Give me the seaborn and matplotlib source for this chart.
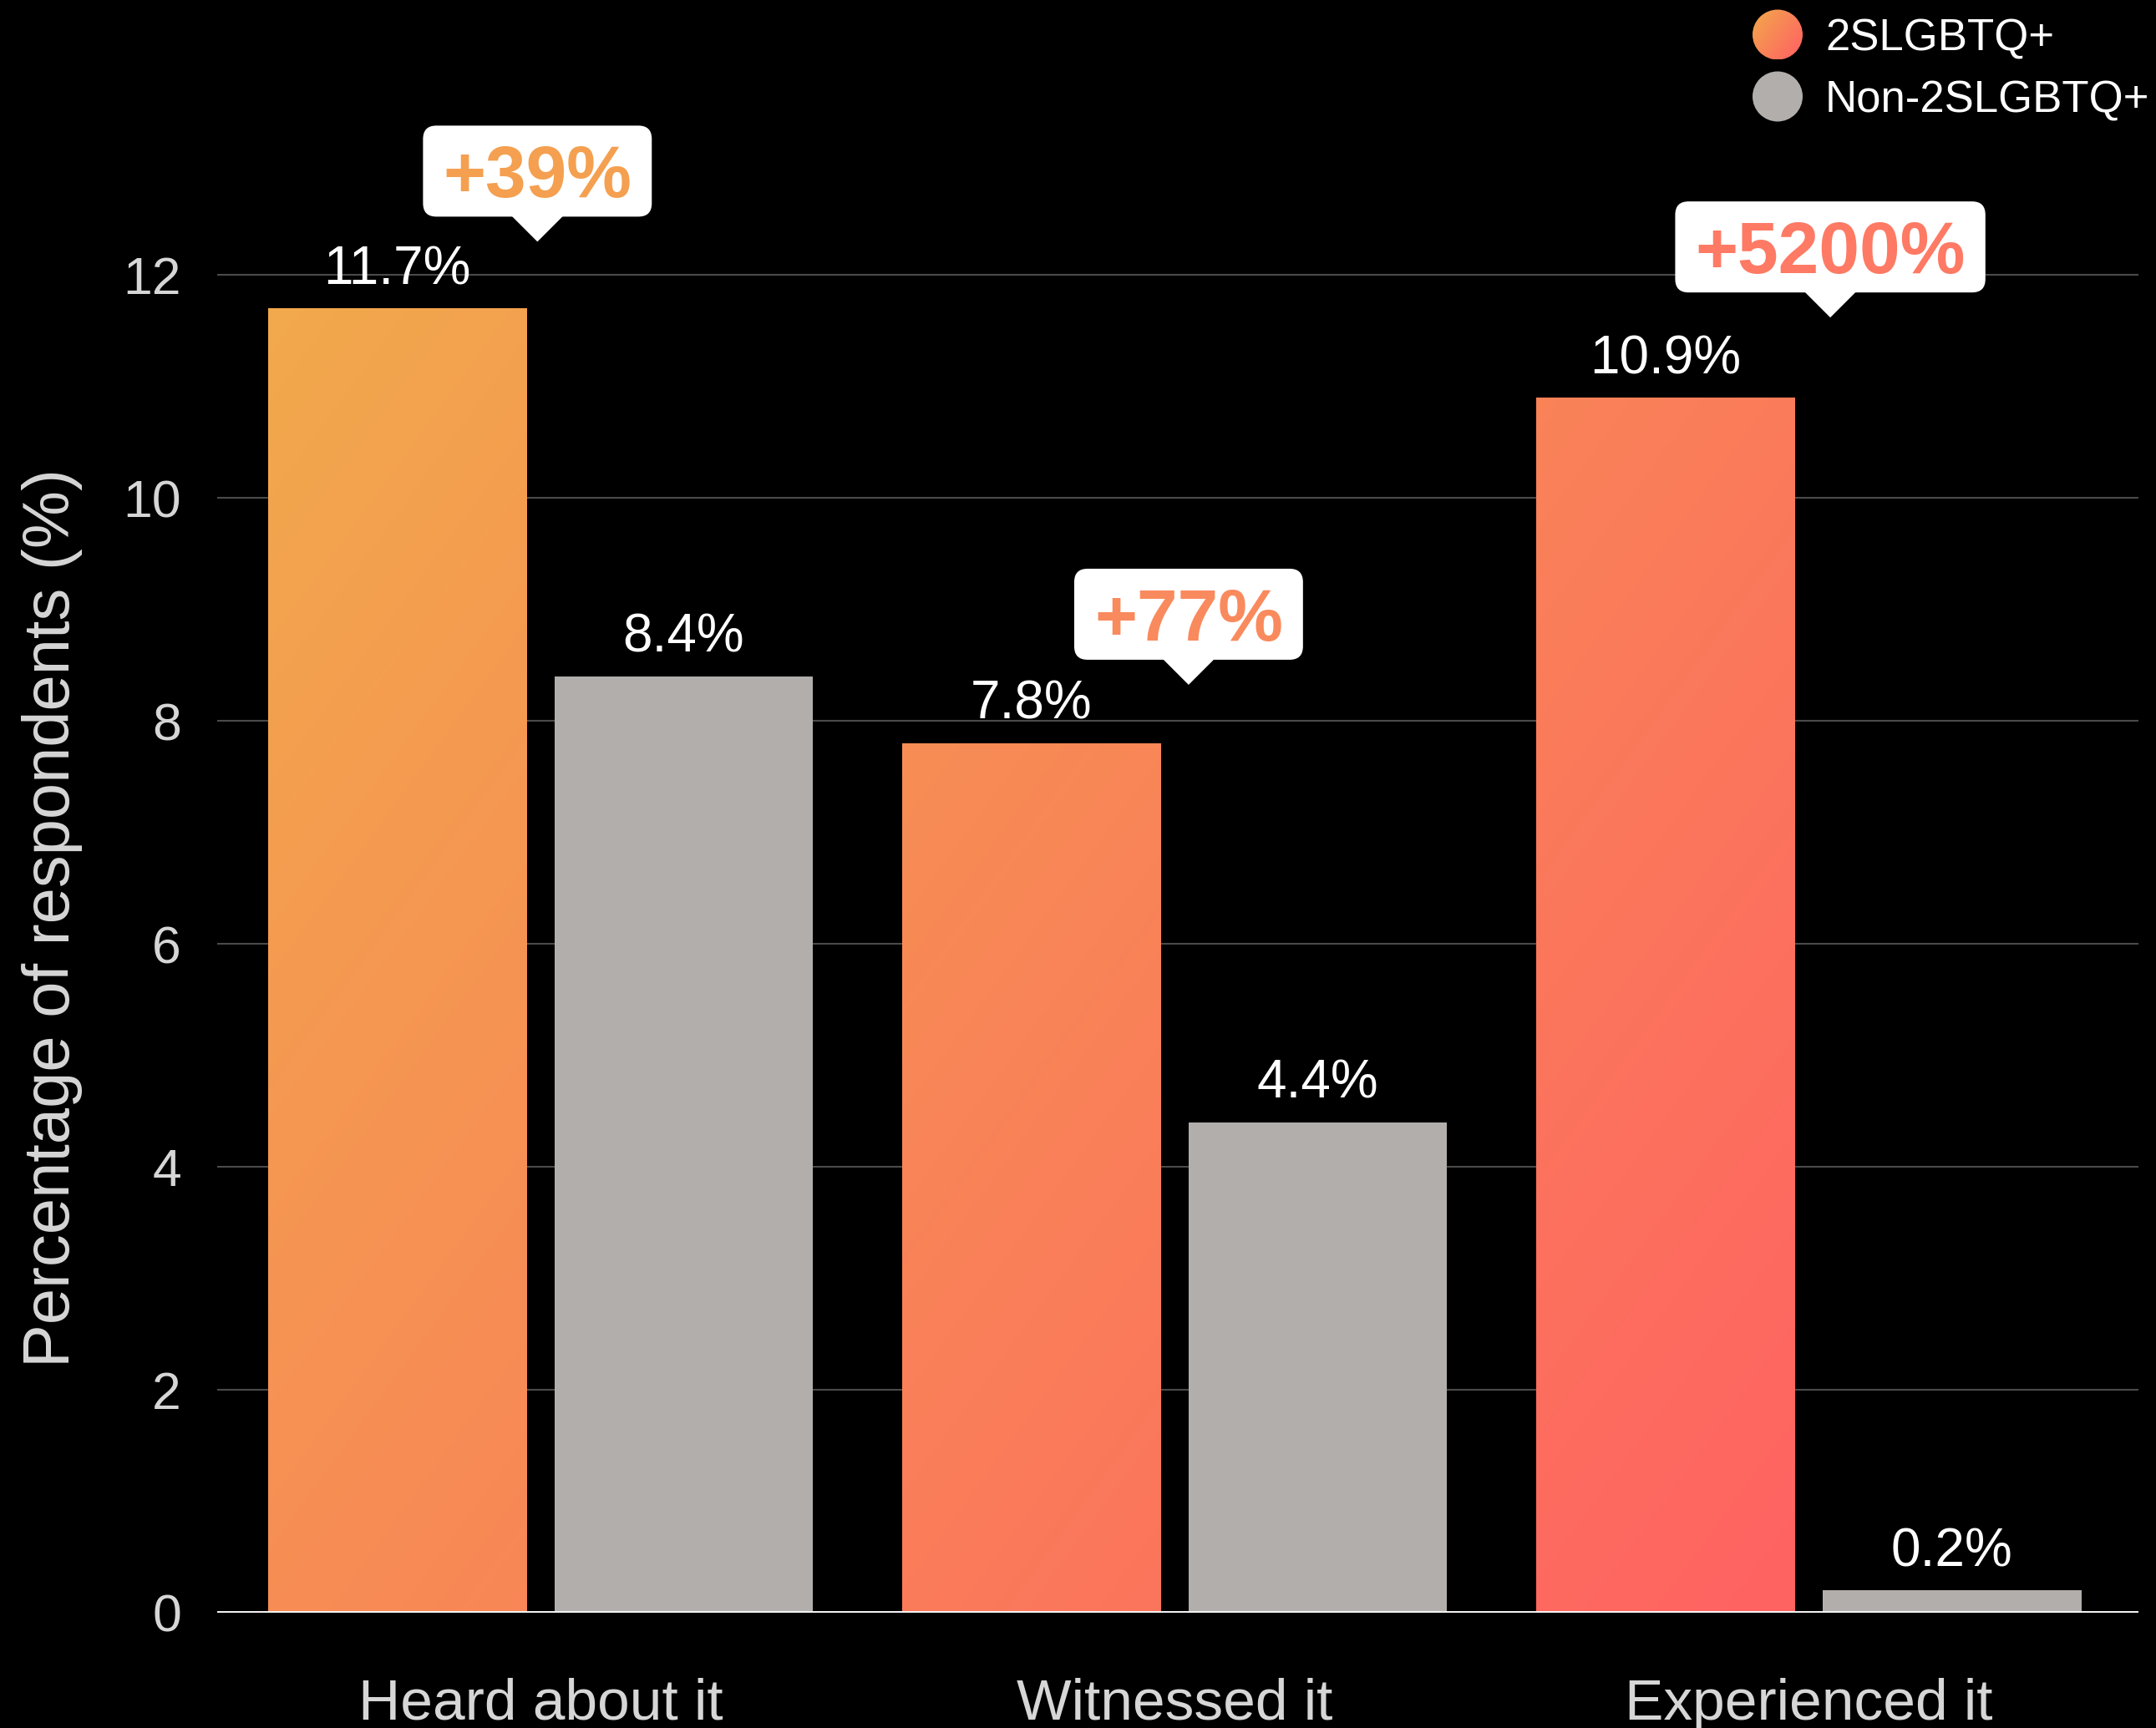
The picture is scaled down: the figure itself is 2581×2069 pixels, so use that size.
import numpy as np
import pandas as pd
import matplotlib
matplotlib.use("Agg")
import matplotlib.pyplot as plt
import seaborn as sns
from matplotlib.patches import FancyBboxPatch, Polygon, Circle

# ---- data -------------------------------------------------------------
categories = ["Heard about it", "Witnessed it", "Experienced it"]
groups = ["2SLGBTQ+", "Non-2SLGBTQ+"]
lgbtq_values = [11.7, 7.8, 10.9]
non_lgbtq_values = [8.4, 4.4, 0.2]
increase_labels = ["+39%", "+77%", "+5200%"]
y_ticks = [0, 2, 4, 6, 8, 10, 12]

df = pd.DataFrame({
    "category": categories * 2,
    "group": [groups[0]] * len(categories) + [groups[1]] * len(categories),
    "value": lgbtq_values + non_lgbtq_values,
})

# ---- styling ----------------------------------------------------------
W, H, DPI = 2581, 2069, 100
GRAY = "#b2aeab"
TICK_COLOR = "#d6d6d6"
GRID_COLOR = "#4a4a4a"
callout_colors = ["#f4a050", "#f98a5d", "#fe7a64"]
callout_dx = [-0.005, 0.022, 0.034]      # horizontal nudge of each pointer (data units)
callout_gap_px = [80, 70, 96]            # pointer tip height above the bar top (pixels)

sns.set_theme(style="dark")
plt.rcParams["font.family"] = ["Liberation Sans", "DejaVu Sans"]

fig = plt.figure(figsize=(W / DPI, H / DPI), dpi=DPI, facecolor="black")
AX_L, AX_R, AX_B = 260, 2560, 1931       # axes frame in image pixels (from top-left)
ax = fig.add_axes([AX_L / W, (H - AX_B) / H, (AX_R - AX_L) / W, AX_B / H])
ax.set_facecolor("black")

sns.barplot(data=df, x="category", y="value", hue="group",
            order=categories, hue_order=groups,
            palette={groups[0]: "#f98c5a", groups[1]: GRAY},
            saturation=1, width=0.903, gap=0.096, linewidth=0,
            errorbar=None, legend=False, ax=ax)

XLIM = (-0.51, 2.52)
YTOP = AX_B / 133.47
ax.set_xlim(*XLIM)
ax.set_ylim(0, YTOP)


# diagonal orange -> coral gradient, defined in image pixel space
C0 = np.array([242, 169, 76]) / 255.0
C1 = np.array([255, 98, 98]) / 255.0


def gradient_rgb(xpx, ypx):
    t = 1.37 * xpx + ypx
    f = (t - 809.0) / (4870.0 - 809.0)
    rgb = C0 + f[..., None] * (C1 - C0)
    return np.clip(rgb, 0, 1)


nx, ny = 400, 400
xs = AX_L + (np.arange(nx) + 0.5) / nx * (AX_R - AX_L)
ys = (np.arange(ny) + 0.5) / ny * AX_B
XX, YY = np.meshgrid(xs, ys)
grad_img = gradient_rgb(XX, YY)

for bar in ax.containers[0]:
    im = ax.imshow(grad_img, extent=(XLIM[0], XLIM[1], 0, YTOP), origin="upper",
                   aspect="auto", interpolation="bilinear", zorder=bar.get_zorder() + 0.1)
    im.set_clip_path(bar)
ax.set_xlim(*XLIM)
ax.set_ylim(0, YTOP)

# value labels above each bar
for container, values in zip(ax.containers, [lgbtq_values, non_lgbtq_values]):
    for bar, v in zip(container, values):
        ax.annotate(f"{v:g}%", (bar.get_x() + bar.get_width() / 2, v),
                    xytext=(0, 21), textcoords="offset points",
                    ha="center", va="baseline", fontsize=46, color="white", zorder=5)

# axes cosmetics
for s in ax.spines.values():
    s.set_visible(False)
ax.set_yticks(y_ticks)
ax.set_yticklabels([str(t) for t in y_ticks])
ax.grid(axis="y", color=GRID_COLOR, linewidth=1.5)
ax.grid(axis="x", visible=False)
ax.set_axisbelow(True)
ax.axhline(0, color="#f2f2f2", linewidth=3.6, zorder=4)
ax.tick_params(axis="y", length=0, labelsize=45, labelcolor=TICK_COLOR, pad=31)
ax.tick_params(axis="x", length=0, labelsize=50, labelcolor=TICK_COLOR, pad=56)
ax.set_xlabel("")
ax.set_ylabel("Percentage of respondents (%)", fontsize=56, color=TICK_COLOR)
ax.yaxis.set_label_coords(-0.070, 0.431)

# ---- overlay in image pixel coordinates (callouts + legend) -----------
ov = fig.add_axes([0, 0, 1, 1], zorder=10)
ov.set_xlim(0, W)
ov.set_ylim(H, 0)
ov.axis("off")
ov.patch.set_alpha(0)

fig.canvas.draw()
renderer = fig.canvas.get_renderer()

BOX_H, TAIL_H, TAIL_W, PAD_X = 109, 30, 62, 24
for i, (label, v) in enumerate(zip(increase_labels, lgbtq_values)):
    dx, dy = ax.transData.transform((i + callout_dx[i], v))
    tx, ty = dx, H - dy - callout_gap_px[i]
    font_pt = 63
    txt = ov.text(tx, 0, label, fontsize=font_pt, fontweight="bold",
                  color=callout_colors[i], ha="center", va="baseline", zorder=13)
    tw = txt.get_window_extent(renderer).width
    bw = tw + 2 * PAD_X
    box_bottom = ty - TAIL_H
    box_top = box_bottom - BOX_H
    box = FancyBboxPatch((tx - bw / 2, box_top), bw, BOX_H,
                         boxstyle="round,pad=0,rounding_size=16",
                         facecolor="white", edgecolor="none", zorder=11)
    ov.add_patch(box)
    ov.add_patch(Polygon([(tx - TAIL_W / 2, box_bottom - 1), (tx + TAIL_W / 2, box_bottom - 1),
                          (tx, ty)], closed=True, facecolor="white", edgecolor="none", zorder=11))
    cap = 0.716 * font_pt * DPI / 72
    txt.set_y((box_top + box_bottom) / 2 + cap / 2)

# legend
LEG_X, LEG_R = 2128, 30
leg_y = [41.5, 115.5]
LEG_FONT = 38
for j, (name, cy) in enumerate(zip(groups, leg_y)):
    circ = Circle((LEG_X, cy), LEG_R, facecolor=GRAY if j else "none",
                  edgecolor="none", zorder=11)
    ov.add_patch(circ)
    if j == 0:
        gx = np.linspace(-1, 1, 80)
        GX, GY = np.meshgrid(gx, gx)
        f = np.clip((1.37 * GX + GY) / 2.37 * 0.5 + 0.5, 0, 1)
        cimg = np.clip(C0 + f[..., None] * (C1 - C0) * 1.05, 0, 1)
        im = ov.imshow(cimg, extent=(LEG_X - LEG_R, LEG_X + LEG_R, cy + LEG_R, cy - LEG_R),
                       origin="upper", aspect="auto", interpolation="bilinear", zorder=12)
        im.set_clip_path(circ)
    cap = 0.716 * LEG_FONT * DPI / 72
    ov.text(2185, cy + cap / 2, name, fontsize=LEG_FONT, color="white",
            ha="left", va="baseline", zorder=12)
ov.set_xlim(0, W)
ov.set_ylim(H, 0)

fig.savefig("out.png", dpi=DPI, facecolor="black")
